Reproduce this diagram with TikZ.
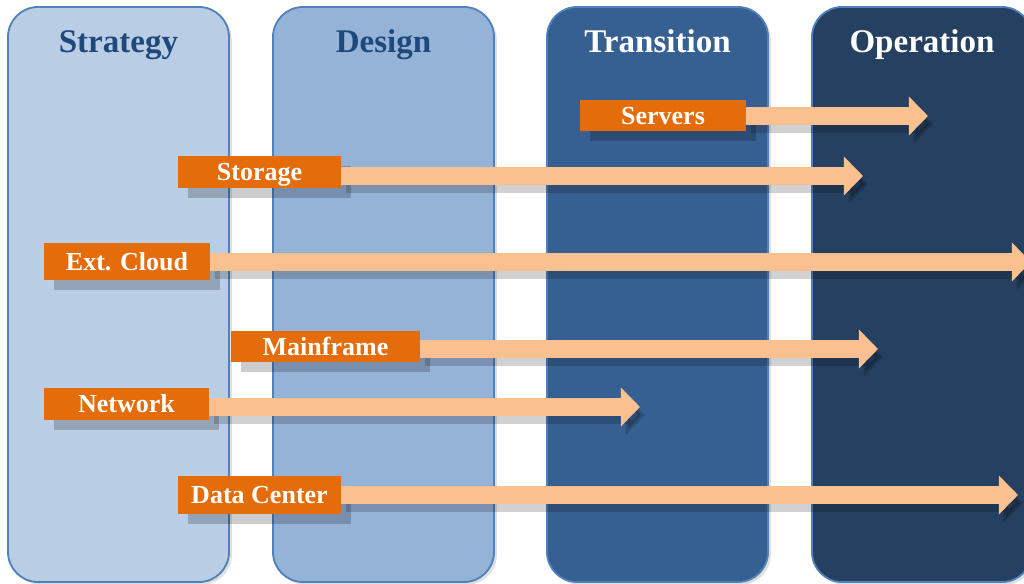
\documentclass[tikz,border=0pt]{standalone}
\usepackage{fontspec}
\setmainfont{Liberation Serif}
\usetikzlibrary{arrows.meta,shadows}
\definecolor{stratfill}{HTML}{B9CDE5}
\definecolor{designfill}{HTML}{95B3D7}
\definecolor{transfill}{HTML}{376092}
\definecolor{operfill}{HTML}{254061}
\definecolor{colborder}{HTML}{4F81BD}
\definecolor{titleblue}{HTML}{1F497D}
\definecolor{lblorange}{HTML}{E46C0A}
\definecolor{arrowpeach}{HTML}{FAC090}
\tikzset{
  col/.style={draw=colborder, line width=1.3pt, rounded corners=0.75cm,
    drop shadow={shadow xshift=2pt, shadow yshift=-2pt, opacity=0.25}},
  coltitle/.style={anchor=base, font=\fontsize{23.5}{26}\selectfont\bfseries},
  lbl/.style={fill=lblorange, text=white, inner sep=0pt,
    text height=12.4pt, text depth=0pt,
    font=\fontsize{18.5}{20}\selectfont\bfseries,
    drop shadow={shadow xshift=0.25cm, shadow yshift=-0.25cm, fill=black, opacity=0.2}},
  fat/.style={draw=arrowpeach, line width=0.47cm,
    -{Triangle[width=0.95cm,length=0.48cm]}},
  fatshadow/.style={fat, draw=black, opacity=0.18,
    transform canvas={shift={(0.12cm,-0.2cm)}}}
}
\begin{document}
\begin{tikzpicture}[x=0.025cm,y=-0.025cm]
            \useasboundingbox (0,0) rectangle (1024,584);
            \draw[col, fill=stratfill] (8,7) rectangle (229,582);
            \draw[col, fill=designfill] (273,7) rectangle (494,582);
            \draw[col, fill=transfill] (547,7) rectangle (768,582);
            \draw[col, fill=operfill] (812,7) rectangle (1032,582);

            \node[coltitle, text=titleblue] (strategy) at (118.5,53) {Strategy};
            \node[coltitle, text=titleblue] (design) at (383.5,53) {Design};
            \node[coltitle, text=white] (transition) at (657.5,53) {Transition};
            \node[coltitle, text=white] (operation) at (922,53) {Operation};

            \node[lbl, minimum width=4.15cm, minimum height=0.78cm] (servers) at (663,115.5) {Servers};
            \node[lbl, minimum width=4.08cm, minimum height=0.8cm] (storage) at (259.5,172) {Storage};
            \node[lbl, minimum width=4.15cm, minimum height=0.92cm] (extcloud) at (127,261.5) {Ext. Cloud};
            \node[lbl, minimum width=4.72cm, minimum height=0.78cm] (mainframe) at (325.5,346.5) {Mainframe};
            \node[lbl, minimum width=4.12cm, minimum height=0.8cm] (network) at (126.5,404) {Network};
            \node[lbl, minimum width=4.08cm, minimum height=0.95cm] (datacenter) at (259.5,495) {Data Center};

            \coordinate (serversend) at (928,116);
            \coordinate (storageend) at (863,176);
            \coordinate (extcloudend) at (1031,262);
            \coordinate (mainframeend) at (878,349);
            \coordinate (networkend) at (640,407);
            \coordinate (datacenterend) at (1018,495);

            % shadows first, then the arrows
            \draw[fatshadow] (servers.east|-serversend) -- (serversend);
            \draw[fatshadow] (storage.east|-storageend) -- (storageend);
            \draw[fatshadow] (extcloud.east|-extcloudend) -- (extcloudend);
            \draw[fatshadow] (mainframe.east|-mainframeend) -- (mainframeend);
            \draw[fatshadow] (network.east|-networkend) -- (networkend);
            \draw[fatshadow] (datacenter.east|-datacenterend) -- (datacenterend);

            \draw[fat] (servers.east|-serversend) -- (serversend);
            \draw[fat] (storage.east|-storageend) -- (storageend);
            \draw[fat] (extcloud.east|-extcloudend) -- (extcloudend);
            \draw[fat] (mainframe.east|-mainframeend) -- (mainframeend);
            \draw[fat] (network.east|-networkend) -- (networkend);
            \draw[fat] (datacenter.east|-datacenterend) -- (datacenterend);
        \end{tikzpicture}
\end{document}
